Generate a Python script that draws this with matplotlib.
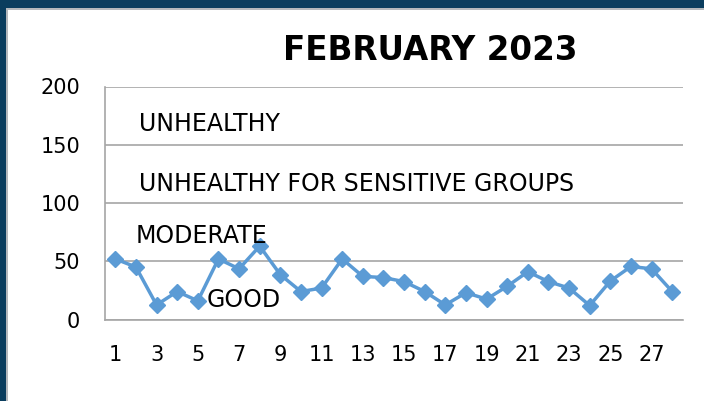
import matplotlib
matplotlib.use("Agg")
import matplotlib.pyplot as plt
from matplotlib.patches import Rectangle

days = list(range(1, 29))
aqi = [52, 45, 12.5, 24, 16, 52, 43.5, 63, 38.5, 24, 27, 52, 37, 36,
       32.5, 24, 12.5, 23, 17.5, 28.5, 41, 32.5, 27, 12, 33, 45.5, 43.5, 24]
xtick_labels = [str(d) for d in range(1, 29, 2)]
yticks = [0, 50, 100, 150, 200]
bands = ["GOOD", "MODERATE", "UNHEALTHY FOR SENSITIVE GROUPS", "UNHEALTHY"]
band_pos = [(5.45, 17), (2.0, 72), (2.13, 116), (2.13, 168)]
title = "FEBRUARY 2023"

W, H = 704, 401
fig = plt.figure(figsize=(W / 100, H / 100), dpi=100)
fig.patch.set_facecolor("white")

# slide frame
blue = "#0a3d5e"
grey = "#b4b8bc"
fig.add_artist(Rectangle((0, 1 - 8 / H), 1, 8 / H, transform=fig.transFigure, color=blue, lw=0))
fig.add_artist(Rectangle((0, 0), 6 / W, 1, transform=fig.transFigure, color=blue, lw=0))
fig.add_artist(Rectangle((6 / W, 0), 2 / W, 1 - 8 / H, transform=fig.transFigure, color=grey, lw=0))
fig.add_artist(Rectangle((6 / W, 1 - 10 / H), 1 - 6 / W, 2 / H, transform=fig.transFigure, color=grey, lw=0))

left, right = 105, 682.5
top, bottom = 86.5, 319.5
ax = fig.add_axes([left / W, 1 - bottom / H, (right - left) / W, (bottom - top) / H])

ax.plot(days, aqi, color="#5b9bd5", lw=2.5, marker="D", markersize=8,
        markerfacecolor="#5b9bd5", markeredgecolor="#5b9bd5", zorder=3)

ax.set_xlim(0.5, 28.5)
ax.set_ylim(0, 200)
ax.set_yticks(yticks)
ax.set_yticklabels([str(v) for v in yticks])
ax.set_xticks(list(range(1, 29, 2)))
ax.set_xticklabels(xtick_labels)
ax.grid(axis="y", color="#a6a6a6", lw=1.2)
ax.set_axisbelow(True)
for s in ["top", "right"]:
    ax.spines[s].set_visible(False)
ax.spines["left"].set_color("#a6a6a6")
ax.spines["bottom"].set_color("#a6a6a6")
ax.spines["left"].set_linewidth(1.2)
ax.spines["bottom"].set_linewidth(1.2)
ax.tick_params(axis="both", length=0, labelsize=15, colors="black")
ax.tick_params(axis="y", pad=18)
ax.tick_params(axis="x", pad=18.5)
for lbl in ax.get_xticklabels() + ax.get_yticklabels():
    lbl.set_fontfamily("DejaVu Sans")

for txt, (x, y) in zip(bands, band_pos):
    ax.text(x, y, txt, fontsize=17, family="DejaVu Sans", va="center", ha="left", zorder=4)

fig.text(430 / W, 1 - 50 / H, title, fontsize=23.5, fontweight="bold", family="DejaVu Sans",
         ha="center", va="center")

fig.savefig("out.png", dpi=100)
